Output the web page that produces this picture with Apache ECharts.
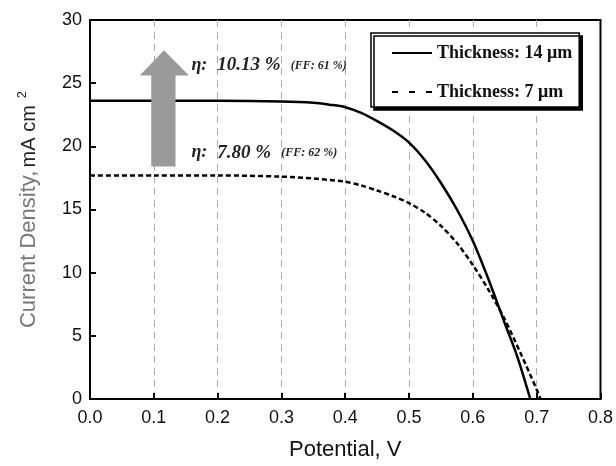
<!DOCTYPE html>
<html>
<head>
<meta charset="utf-8">
<script src="https://cdn.jsdelivr.net/npm/echarts@6/dist/echarts.min.js"></script>
<style>
  html, body { margin: 0; padding: 0; background: #fff; }
  #chart { width: 616px; height: 466px; }
</style>
</head>
<body>
<div id="chart"></div>
<script>
// J-V curves
var potential14 = [0, 0.1, 0.2, 0.3, 0.35, 0.375, 0.4, 0.425, 0.45, 0.475, 0.5, 0.525, 0.55, 0.575, 0.6, 0.625, 0.65, 0.67, 0.69];
var current14   = [23.6, 23.6, 23.6, 23.55, 23.45, 23.3, 23.1, 22.65, 22.0, 21.25, 20.3, 18.9, 17.1, 15.0, 12.5, 9.4, 6.0, 3.3, 0];
var potential7  = [0, 0.1, 0.2, 0.3, 0.35, 0.4, 0.425, 0.45, 0.475, 0.5, 0.525, 0.55, 0.575, 0.6, 0.625, 0.65, 0.675, 0.7, 0.706];
var current7    = [17.7, 17.7, 17.7, 17.6, 17.45, 17.2, 16.9, 16.5, 16.05, 15.5, 14.75, 13.7, 12.35, 10.6, 8.6, 6.3, 3.6, 0.75, 0];
var seriesNames = ['Thickness: 14 μm', 'Thickness: 7 μm'];

// annotation text and where it sits (data coords)
var effLabels = [
  { eta: '10.13 %', ff: '(FF: 61 %)', at: [0.159, 26.4] },
  { eta: '7.80 %',  ff: '(FF: 62 %)', at: [0.159, 19.5] }
];
// up arrow outline in data coords
var arrowShape = [[0.096, 18.4], [0.134, 18.4], [0.134, 25.6], [0.155, 25.6], [0.116, 27.6], [0.078, 25.6], [0.096, 25.6]];

function zip(xs, ys) {
  var out = [];
  for (var i = 0; i < xs.length; i++) out.push([xs[i], ys[i]]);
  return out;
}

var chart = echarts.init(document.getElementById('chart'));

var option = {
  animation: false,
  grid: {
    left: 90, right: 14, top: 20, bottom: 63,
    show: true, borderColor: '#000', borderWidth: 2
  },
  legend: {
    orient: 'vertical',
    left: 371, top: 33,
    padding: [11, 7, 6, 20],
    itemWidth: 40, itemHeight: 14, itemGap: 21,
    backgroundColor: '#fff',
    borderColor: '#000', borderWidth: 1.5,
    shadowColor: '#000', shadowBlur: 0, shadowOffsetX: 3, shadowOffsetY: 3,
    itemStyle: { opacity: 0 },
    textStyle: { fontFamily: 'Liberation Serif', fontWeight: 'bold', fontSize: 18, color: '#111', lineHeight: 18 },
    data: [
      { name: seriesNames[0] },
      { name: seriesNames[1], lineStyle: { type: [6, 11] } }
    ]
  },
  xAxis: {
    type: 'value', min: 0, max: 0.8, interval: 0.1,
    name: 'Potential, V', nameLocation: 'middle', nameGap: 40,
    nameTextStyle: { fontFamily: 'Liberation Sans', fontSize: 22, color: '#111' },
    axisLine: { lineStyle: { color: '#000', width: 2 } },
    axisTick: { inside: true, length: 6, lineStyle: { color: '#000', width: 2 } },
    axisLabel: {
      margin: 10, fontFamily: 'Liberation Sans', fontSize: 18, color: '#111',
      formatter: function (v) { return v.toFixed(1); }
    },
    splitLine: { show: true, showMinLine: false, showMaxLine: false, lineStyle: { color: '#b0b0b0', width: 1, type: [7, 5] } }
  },
  yAxis: {
    type: 'value', min: 0, max: 30, interval: 5,
    name: '{a|Current Density,} {b|mA cm}{s|2}',
    nameLocation: 'middle', nameGap: 48, nameRotate: 90,
    nameTextStyle: {
      rich: {
        a: { fontFamily: 'Liberation Sans', fontSize: 22, color: '#777', lineHeight: 26 },
        b: { fontFamily: 'Liberation Sans', fontSize: 20, color: '#222', lineHeight: 26 },
        s: { fontFamily: 'Liberation Sans', fontSize: 13, color: '#222', lineHeight: 13, verticalAlign: 'top', padding: [0, 0, 0, 7] }
      }
    },
    axisLine: { lineStyle: { color: '#000', width: 2 } },
    axisTick: { inside: true, length: 6, lineStyle: { color: '#000', width: 2 } },
    axisLabel: { margin: 8, fontFamily: 'Liberation Sans', fontSize: 18, color: '#111' },
    splitLine: { show: false }
  },
  series: [
    {
      name: seriesNames[0], type: 'line', data: zip(potential14, current14),
      symbol: 'none', smooth: 0.3,
      lineStyle: { color: '#000', width: 2.5 }, itemStyle: { color: '#000' }
    },
    {
      name: seriesNames[1], type: 'line', data: zip(potential7, current7),
      symbol: 'none', smooth: 0.3,
      lineStyle: { color: '#000', width: 2.5, type: [5, 3] }, itemStyle: { color: '#000' }
    }
  ]
};
chart.setOption(option);

// annotations placed through the grid's own scales
var graphics = [];
graphics.push({
  type: 'polygon', z: 100,
  shape: { points: arrowShape.map(function (p) { return chart.convertToPixel({ gridIndex: 0 }, p); }) },
  style: { fill: '#9a9a9a' }
});
effLabels.forEach(function (l) {
  var p = chart.convertToPixel({ gridIndex: 0 }, l.at);
  graphics.push({
    type: 'text', z: 100, x: p[0], y: p[1],
    style: {
      text: '{e|η:}{v|' + l.eta + '}{f|' + l.ff + '}',
      verticalAlign: 'middle', align: 'left',
      rich: {
        e: { fontFamily: 'Liberation Serif', fontStyle: 'italic', fontWeight: 'bold', fontSize: 18, fill: '#222', padding: [0, 10, 0, 0] },
        v: { fontFamily: 'Liberation Serif', fontStyle: 'italic', fontWeight: 'bold', fontSize: 19, fill: '#222', padding: [0, 10, 0, 0] },
        f: { fontFamily: 'Liberation Serif', fontStyle: 'italic', fontWeight: 'bold', fontSize: 12, fill: '#222' }
      }
    }
  });
});
chart.setOption({ graphic: graphics });
</script>
</body>
</html>
